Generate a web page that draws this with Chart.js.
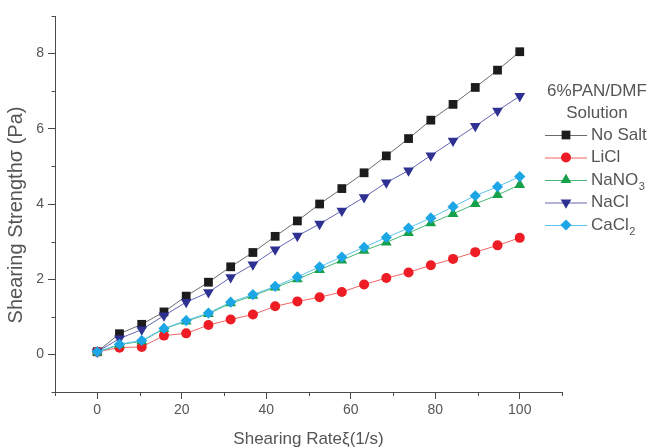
<!DOCTYPE html>
<html>
<head>
<meta charset="utf-8">
<title>Shearing strength of 6% PAN/DMF solutions</title>
<script src="https://cdn.jsdelivr.net/npm/chart.js@4/dist/chart.umd.min.js"></script>
<style>
  html, body { margin: 0; padding: 0; background: #ffffff; }
  #wrap { position: relative; width: 652px; height: 448px; }
</style>
</head>
<body>
<div id="wrap"><canvas id="chart" width="652" height="448"></canvas></div>
<script>
// Shear rate (1/s) at each measuring point
const rates = [0, 5.26, 10.53, 15.79, 21.05, 26.32, 31.58, 36.84, 42.11, 47.37,
               52.63, 57.89, 63.16, 68.42, 73.68, 78.95, 84.21, 89.47, 94.74, 100];

// Shearing strength (Pa) for each salt additive
const noSalt = [0.07, 0.55, 0.80, 1.13, 1.55, 1.92, 2.33, 2.71, 3.14, 3.55,
                4.00, 4.41, 4.83, 5.28, 5.74, 6.23, 6.65, 7.10, 7.56, 8.05];
const liCl   = [0.07, 0.18, 0.20, 0.50, 0.56, 0.78, 0.93, 1.06, 1.28, 1.41,
                1.52, 1.66, 1.86, 2.03, 2.18, 2.37, 2.54, 2.72, 2.90, 3.10];
const naNO3  = [0.05, 0.26, 0.35, 0.68, 0.88, 1.08, 1.36, 1.56, 1.78, 2.00,
                2.25, 2.50, 2.76, 2.98, 3.23, 3.49, 3.74, 4.00, 4.24, 4.51];
const naCl   = [0.07, 0.42, 0.66, 1.03, 1.39, 1.65, 2.05, 2.39, 2.79, 3.15,
                3.47, 3.82, 4.18, 4.57, 4.89, 5.29, 5.68, 6.07, 6.48, 6.87];
const caCl2  = [0.07, 0.27, 0.37, 0.69, 0.90, 1.10, 1.39, 1.59, 1.81, 2.06,
                2.33, 2.59, 2.85, 3.11, 3.36, 3.63, 3.93, 4.22, 4.46, 4.73];

// Legend entries: main text and optional subscript
const seriesNames = [["No Salt", ""], ["LiCl", ""], ["NaNO", "3"], ["NaCl", ""], ["CaCl", "2"]];
const legendTitle = ["6%PAN/DMF", "Solution"];

// Axis ranges, tick labels and titles
const xRange = [-10, 110];
const yRange = [-1, 9];
const xTickLabels = [0, 20, 40, 60, 80, 100];
const yTickLabels = [0, 2, 4, 6, 8];
const xTitle = 'Shearing Rateξ(1/s)';
const yTitle = 'Shearing Strengthσ (Pa)';

const FONT = "'Liberation Sans', Arial, Helvetica, sans-serif";
const AXIS_COLOR = '#4a4a4a';
const TEXT_COLOR = '#555555';

const styles = [
  { marker: '#1c1c1c', line: '#6a6a6a', shape: 'rect',     radius: 6.2, rot: 0 },
  { marker: '#ee1c24', line: '#f26464', shape: 'circle',   radius: 5.0, rot: 0 },
  { marker: '#16a04a', line: '#45b574', shape: 'triangle', radius: 6.2, rot: 0 },
  { marker: '#2e3192', line: '#6266b4', shape: 'triangle', radius: 6.2, rot: 180 },
  { marker: '#1ca6e6', line: '#5cc3ef', shape: 'rectRot',  radius: 5.6, rot: 0 }
];
const seriesValues = [noSalt, liCl, naNO3, naCl, caCl2];

const datasets = seriesValues.map((vals, i) => ({
  label: seriesNames[i].join(''),
  data: rates.map((x, k) => ({ x: x, y: vals[k] })),
  borderColor: styles[i].line,
  borderWidth: 1,
  backgroundColor: styles[i].marker,
  pointBackgroundColor: styles[i].marker,
  pointBorderColor: styles[i].marker,
  pointBorderWidth: 0,
  pointStyle: styles[i].shape,
  pointRadius: styles[i].radius,
  pointRotation: styles[i].rot,
  pointHoverRadius: styles[i].radius,
  tension: 0,
  order: seriesValues.length - i   // later series drawn on top
}));

// Short minor ticks between the labelled ones, plus the vertical axis title
const axisExtras = {
  id: 'axisExtras',
  afterDraw(chart) {
    const ctx = chart.ctx;
    const xs = chart.scales.x, ys = chart.scales.y;
    ctx.save();
    ctx.strokeStyle = AXIS_COLOR;
    ctx.lineWidth = 1;
    ctx.beginPath();
    for (let v = yRange[0]; v <= yRange[1]; v++) {
      if (yTickLabels.includes(v)) continue;
      const py = Math.round(ys.getPixelForValue(v)) + 0.5;
      ctx.moveTo(xs.left - 3.5, py);
      ctx.lineTo(xs.left, py);
    }
    for (let v = xRange[0]; v <= xRange[1]; v += 10) {
      if (xTickLabels.includes(v)) continue;
      const px = Math.round(xs.getPixelForValue(v)) + 0.5;
      ctx.moveTo(px, ys.bottom);
      ctx.lineTo(px, ys.bottom + 4);
    }
    ctx.stroke();

    // vertical title, reading bottom to top
    ctx.translate(16, 215);
    ctx.rotate(-Math.PI / 2);
    ctx.fillStyle = TEXT_COLOR;
    ctx.font = '20px ' + FONT;
    ctx.textAlign = 'center';
    ctx.textBaseline = 'middle';
    ctx.fillText(yTitle, 0, 0);
    ctx.restore();
  }
};

// Legend box on the right: title, then line + marker + name per series
const sideLegend = {
  id: 'sideLegend',
  afterDraw(chart) {
    const ctx = chart.ctx;
    ctx.save();
    ctx.fillStyle = TEXT_COLOR;
    ctx.textBaseline = 'middle';
    ctx.textAlign = 'center';
    ctx.font = '17px ' + FONT;
    ctx.fillText(legendTitle[0], 597, 91);
    ctx.fillText(legendTitle[1], 597, 113);

    const rowY = [135, 157.5, 180, 202.5, 225];
    chart.data.datasets.forEach((ds, i) => {
      const y = rowY[i];
      ctx.strokeStyle = ds.borderColor;
      ctx.lineWidth = 1;
      ctx.beginPath();
      ctx.moveTo(545, y + 0.5);
      ctx.lineTo(587, y + 0.5);
      ctx.stroke();
      ctx.fillStyle = ds.pointBackgroundColor;
      Chart.helpers.drawPoint(ctx, {
        pointStyle: ds.pointStyle,
        radius: ds.pointRadius,
        rotation: ds.pointRotation,
        borderWidth: 0
      }, 566, y);
      ctx.fillStyle = TEXT_COLOR;
      ctx.textAlign = 'left';
      ctx.font = '17px ' + FONT;
      const [main, sub] = seriesNames[i];
      ctx.fillText(main, 591, y);
      if (sub) {
        const w = ctx.measureText(main).width;
        ctx.font = '11px ' + FONT;
        ctx.fillText(sub, 591 + w + 0.5, y + 7);
      }
    });
    ctx.restore();
  }
};

new Chart(document.getElementById('chart'), {
  type: 'line',
  data: { datasets: datasets },
  options: {
    responsive: false,
    animation: false,
    events: [],
    layout: { padding: { top: 16, right: 90, left: 0, bottom: 0 } },
    plugins: { legend: { display: false }, tooltip: { enabled: false } },
    scales: {
      x: {
        type: 'linear',
        min: xRange[0], max: xRange[1],
        afterFit(s) { s.height = 56; },
        border: { color: AXIS_COLOR, width: 1 },
        grid: {
          drawOnChartArea: false, tickLength: 7, tickWidth: 1,
          tickColor: c => xTickLabels.includes(c.tick.value) ? AXIS_COLOR : 'rgba(0,0,0,0)'
        },
        ticks: {
          stepSize: 10, autoSkip: false, maxRotation: 0, padding: 3,
          color: TEXT_COLOR, font: { family: FONT, size: 14 },
          callback: v => xTickLabels.includes(v) ? String(v) : ''
        },
        title: {
          display: true, text: xTitle, color: TEXT_COLOR,
          font: { family: FONT, size: 17 }, padding: { top: 0, bottom: -2 }
        }
      },
      y: {
        type: 'linear',
        min: yRange[0], max: yRange[1],
        afterFit(s) { s.width = 55; },
        border: { color: AXIS_COLOR, width: 1 },
        grid: {
          drawOnChartArea: false, tickLength: 7, tickWidth: 1,
          tickColor: c => yTickLabels.includes(c.tick.value) ? AXIS_COLOR : 'rgba(0,0,0,0)'
        },
        ticks: {
          stepSize: 1, autoSkip: false, padding: 4,
          color: TEXT_COLOR, font: { family: FONT, size: 14 },
          callback: v => yTickLabels.includes(v) ? String(v) : ''
        },
        title: { display: false }
      }
    }
  },
  plugins: [axisExtras, sideLegend]
});
</script>
</body>
</html>
